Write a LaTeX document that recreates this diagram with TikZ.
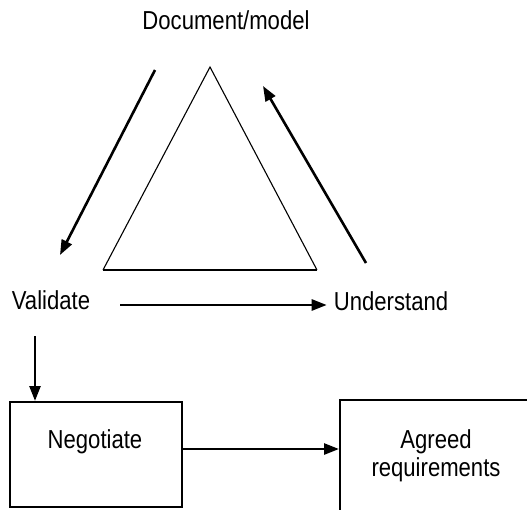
\documentclass[tikz,border=0pt]{standalone}
\usepackage{fontspec}
\setmainfont{Liberation Sans}[FakeStretch=0.85]
\usetikzlibrary{arrows.meta}
\begin{document}
\begin{tikzpicture}[x=1pt,y=-1pt,
  lbl/.style={font=\fontsize{26}{28}\selectfont, inner sep=0pt, align=center},
  conn/.style={line width=2.6pt, -{Triangle[length=15pt,width=11pt]}},
  boxed/.style={draw, line width=2.4pt}]
\useasboundingbox (0,0) rectangle (527,509);
\clip (0,0) rectangle (527,509);
% triangle
\coordinate (apex) at (210,67);
\coordinate (bl) at (103,270);
\coordinate (br) at (317,270);
\draw[line width=1.1pt] (bl) -- (apex) -- (br);
\draw[line width=2.6pt] (bl) -- (br);
% labels
\node[lbl] (doc) at (226,20) {Document/model};
\node[lbl] (val) at (51,300) {Validate};
\node[lbl] (und) at (391,301) {Understand};
% arrows around triangle
\coordinate (a1s) at (155,70);
\coordinate (a1e) at (60,255);
\draw[conn] (a1s) -- (a1e);
\coordinate (a2s) at (366,263);
\coordinate (a2e) at (263,86);
\draw[conn] (a2s) -- (a2e);
\coordinate (a3s) at (120,305);
\draw[conn] (a3s) -- ([xshift=-7pt]und.west |- a3s);
% boxes
\draw[boxed] (10,402) rectangle (182,507);
\node[lbl] (neg) at (95,442) {Negotiate};
\draw[boxed] (340,400) rectangle (560,560);
\node[lbl] (agr) at (436,456) {Agreed\\requirements};
\coordinate (v1) at (35,336);
\draw[conn] (v1) -- (35,401);
\coordinate (n1) at (182,449);
\coordinate (n2) at (339,449);
\draw[conn] (n1) -- (n2);
\end{tikzpicture}
\end{document}
